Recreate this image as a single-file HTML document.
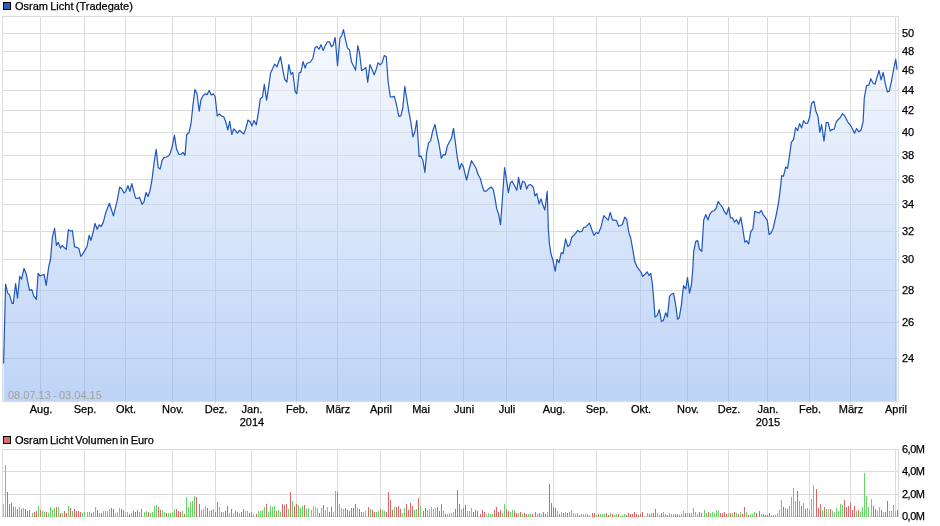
<!DOCTYPE html>
<html><head><meta charset="utf-8"><title>Osram Licht Chart</title><style>
html,body{margin:0;padding:0;background:#fff;width:940px;height:526px;overflow:hidden}
svg{display:block;will-change:transform}
text{font-family:"Liberation Sans",Arial,sans-serif;font-size:11px;fill:#000;stroke:#000;stroke-width:0.25px}
</style></head><body>
<svg width="940" height="526" viewBox="0 0 940 526" shape-rendering="crispEdges">
<defs><linearGradient id="fg" x1="0" y1="16" x2="0" y2="401" gradientUnits="userSpaceOnUse"><stop offset="0" stop-color="#f4f7ff" stop-opacity="0.5"/><stop offset="1" stop-color="#7da9f1" stop-opacity="0.5"/></linearGradient></defs>
<rect x="3.5" y="2.5" width="7" height="7" fill="#2360c2" stroke="#000"/>
<text x="15" y="10" word-spacing="-0.8">Osram Licht (Tradegate)</text>
<path d="M2 33.5H898M2 51.5H898M2 70.5H898M2 90.5H898M2 110.5H898M2 132.5H898M2 155.5H898M2 179.5H898M2 204.5H898M2 231.5H898M2 259.5H898M2 290.5H898M2 322.5H898M2 358.5H898M40.5 16V403M84.5 16V403M125.5 16V403M172.5 16V403M215.5 16V403M251.5 16V403M296.5 16V403M337.5 16V403M380.5 16V403M420.5 16V403M463.5 16V403M506.5 16V403M553.5 16V403M596.5 16V403M640.5 16V403M687.5 16V403M728.5 16V403M767.5 16V403M809.5 16V403M850.5 16V403M895.5 16V403" stroke="#dcdcdc" fill="none"/>
<rect x="2.5" y="16.5" width="896" height="385" fill="none" stroke="#dcdcdc"/>
<path d="M3.6 363.5 L5.6 284.1 L7.7 293.1 L9.4 294.6 L12.0 303.4 L13.3 303.4 L15.6 283.5 L17.5 298.2 L19.7 276.4 L21.6 279.2 L24.0 268.4 L26.1 273.4 L29.5 290.4 L31.8 289.5 L33.8 296.1 L36.4 299.3 L38.1 273.4 L40.2 276.0 L44.1 274.3 L46.2 285.4 L48.7 266.9 L50.5 259.5 L52.4 237.2 L54.6 228.3 L56.4 245.3 L58.3 242.4 L60.4 248.1 L62.2 245.3 L64.5 247.8 L66.3 249.4 L68.4 229.6 L70.3 231.1 L72.4 230.5 L74.6 246.9 L77.1 247.4 L78.9 248.6 L80.8 256.4 L82.6 254.3 L84.5 251.1 L87.0 246.5 L89.2 235.4 L90.9 240.3 L92.9 233.3 L95.0 223.4 L97.1 229.2 L99.1 224.9 L101.2 226.4 L103.3 222.4 L105.7 212.7 L109.4 203.3 L113.4 215.9 L117.0 201.4 L119.7 187.2 L121.8 188.8 L123.9 193.0 L125.8 191.4 L127.9 185.6 L129.9 191.4 L131.8 183.6 L135.5 198.2 L137.6 198.5 L139.6 197.4 L142.0 204.3 L143.9 202.2 L146.0 192.5 L148.1 196.5 L150.1 190.1 L152.0 179.6 L154.1 162.6 L156.2 149.4 L158.2 167.5 L160.1 169.1 L162.2 160.2 L164.3 157.4 L166.7 157.0 L168.7 155.8 L170.0 153.7 L172.2 146.8 L174.4 135.1 L176.6 149.3 L179.0 154.5 L181.3 154.0 L183.0 152.3 L185.0 155.3 L186.7 134.5 L189.0 132.7 L191.0 123.7 L192.9 105.7 L195.0 89.4 L197.0 93.7 L199.2 111.2 L201.0 99.7 L203.0 95.8 L205.2 93.7 L207.0 94.6 L209.2 90.6 L211.2 95.1 L213.3 93.7 L215.2 96.8 L217.2 116.0 L219.5 113.9 L221.5 116.0 L223.7 116.8 L225.8 122.0 L227.8 130.0 L229.7 121.4 L231.8 134.5 L233.8 128.8 L235.7 131.0 L237.5 133.2 L239.5 130.3 L241.9 132.6 L244.0 133.9 L245.8 128.5 L248.0 120.0 L250.4 122.3 L251.8 125.9 L254.0 120.5 L256.3 124.9 L258.5 111.8 L260.3 98.8 L262.5 97.0 L264.3 84.4 L266.6 100.1 L268.4 88.4 L270.6 73.0 L272.6 68.8 L274.7 64.0 L276.9 67.0 L280.5 56.7 L282.9 70.3 L284.7 79.3 L286.9 82.0 L288.8 64.5 L291.0 74.3 L292.8 72.5 L295.2 91.6 L296.8 93.8 L299.1 73.0 L300.9 72.1 L303.1 61.6 L305.1 68.1 L306.7 63.5 L308.6 62.8 L310.7 61.8 L312.8 58.5 L315.0 47.8 L316.7 46.4 L319.0 49.2 L321.0 44.7 L323.1 50.4 L325.2 45.7 L327.4 41.8 L329.5 41.8 L331.4 46.7 L333.2 45.0 L335.2 37.5 L337.5 65.6 L340.0 37.8 L341.8 35.7 L343.5 29.6 L345.4 39.3 L347.4 47.8 L349.5 50.0 L351.6 62.1 L353.8 66.4 L355.6 70.3 L357.8 45.7 L359.6 53.5 L361.6 70.6 L363.8 69.2 L365.9 67.5 L367.7 82.3 L369.9 64.6 L372.0 69.2 L374.2 74.9 L375.9 70.3 L378.0 62.8 L380.2 64.9 L382.1 62.8 L384.3 55.5 L386.3 56.8 L388.2 82.5 L390.3 96.6 L392.3 97.1 L394.2 96.2 L396.6 105.1 L398.8 116.4 L400.9 115.9 L402.8 108.2 L404.8 86.3 L406.9 99.7 L408.8 111.6 L410.8 121.9 L412.9 137.0 L414.8 132.0 L416.8 120.3 L418.3 143.3 L419.1 156.6 L420.9 155.9 L422.9 160.6 L424.9 172.3 L426.6 152.6 L428.6 142.6 L430.6 140.9 L432.6 131.3 L435.0 124.4 L436.9 134.6 L439.0 144.0 L441.3 158.2 L443.3 154.6 L445.3 155.0 L447.3 146.0 L449.5 141.7 L451.5 138.2 L453.5 128.4 L455.3 142.0 L457.3 157.3 L459.5 169.3 L461.5 163.5 L463.3 166.6 L464.9 173.2 L466.6 180.0 L468.7 171.0 L471.5 160.7 L473.8 164.5 L476.0 168.0 L478.2 174.7 L480.2 178.2 L482.0 185.0 L484.0 191.1 L486.3 191.1 L488.6 188.8 L491.2 187.0 L493.2 189.3 L495.1 198.7 L496.7 208.6 L498.8 214.7 L500.5 224.6 L502.3 200.2 L504.6 167.5 L506.4 179.7 L508.4 192.6 L510.4 182.7 L512.2 181.2 L514.5 185.8 L516.8 190.3 L518.6 177.4 L520.6 189.3 L522.5 181.2 L524.4 182.0 L525.0 183.0 L526.7 189.1 L528.4 185.3 L530.3 184.5 L531.8 185.6 L533.4 187.5 L534.9 195.9 L536.8 193.6 L539.1 203.9 L541.0 198.9 L542.9 205.0 L544.9 210.0 L547.2 191.3 L548.4 230.4 L549.4 243.4 L551.0 254.0 L552.9 260.1 L555.2 271.2 L557.0 259.4 L559.0 262.7 L561.3 252.5 L563.1 253.6 L565.6 238.8 L567.7 246.4 L569.7 244.9 L571.7 237.3 L573.8 235.3 L575.8 233.2 L577.7 230.4 L579.9 232.0 L581.9 231.2 L583.8 227.4 L585.7 227.1 L587.5 225.1 L589.5 223.1 L591.8 229.7 L594.0 235.3 L596.3 232.4 L598.3 233.6 L600.8 227.8 L603.8 215.7 L606.0 217.9 L608.2 220.2 L610.2 212.3 L612.5 220.2 L614.8 220.2 L616.6 220.5 L618.6 226.3 L620.6 225.5 L622.4 224.5 L624.7 217.2 L626.7 219.5 L628.8 232.4 L630.8 238.5 L632.7 249.1 L634.9 262.1 L636.9 266.6 L639.1 269.7 L641.1 272.3 L642.6 276.5 L644.9 274.3 L647.1 271.8 L649.0 275.4 L650.8 273.4 L652.4 284.2 L653.6 297.8 L655.0 317.1 L657.1 315.6 L659.3 309.5 L661.4 321.3 L663.3 320.6 L665.7 312.8 L667.4 317.1 L669.5 296.4 L671.4 294.2 L673.5 293.2 L675.7 304.9 L677.5 319.2 L679.2 317.8 L681.4 304.9 L683.5 285.7 L685.7 289.0 L687.5 277.5 L689.5 293.2 L691.4 285.0 L692.8 269.3 L693.7 251.3 L695.8 241.4 L697.7 240.6 L699.4 249.2 L701.8 251.3 L703.7 220.0 L705.8 214.5 L708.0 220.0 L709.7 214.3 L712.0 211.4 L714.1 210.7 L716.1 208.5 L718.2 201.4 L720.1 204.3 L722.2 206.8 L724.4 211.7 L726.5 214.3 L728.7 207.4 L730.5 217.8 L732.5 217.8 L734.4 222.1 L736.5 219.7 L738.6 224.2 L740.8 217.4 L742.5 226.8 L744.8 242.1 L746.5 240.6 L748.6 243.9 L750.8 231.7 L752.9 228.8 L754.8 211.4 L757.2 212.3 L759.0 213.2 L761.3 210.5 L763.1 214.6 L764.9 216.8 L767.3 220.4 L769.1 234.5 L771.2 232.7 L773.1 228.5 L775.8 216.8 L778.5 203.2 L780.3 188.8 L781.7 175.6 L783.5 176.2 L785.7 167.1 L787.5 168.4 L789.3 157.2 L791.4 142.1 L793.6 139.5 L795.6 127.5 L797.6 130.6 L799.6 123.5 L801.6 127.9 L803.6 120.6 L805.6 123.5 L807.6 123.2 L809.6 117.3 L811.6 103.3 L814.0 101.3 L815.9 111.3 L818.0 116.6 L819.8 132.3 L821.6 124.6 L824.0 141.2 L826.2 122.6 L828.2 122.6 L830.2 131.0 L832.2 129.6 L834.2 129.2 L836.2 121.9 L838.2 119.5 L840.2 117.7 L842.4 113.7 L844.4 115.5 L846.4 119.3 L848.4 123.0 L850.4 125.2 L852.4 128.8 L854.5 133.2 L856.6 128.5 L858.6 131.6 L860.9 130.5 L863.1 121.9 L864.3 97.9 L866.6 85.6 L868.8 85.1 L870.8 78.8 L872.9 82.9 L875.1 84.2 L877.2 76.5 L879.1 70.5 L881.1 80.0 L883.2 72.3 L885.4 84.2 L887.4 92.0 L889.3 91.1 L891.7 80.0 L893.6 69.7 L895.7 59.4 L897.1 69.7 L897.1 401 L3.6 401 Z" fill="url(#fg)" stroke="none" shape-rendering="auto"/>
<path d="M3.6 363.5 L5.6 284.1 L7.7 293.1 L9.4 294.6 L12.0 303.4 L13.3 303.4 L15.6 283.5 L17.5 298.2 L19.7 276.4 L21.6 279.2 L24.0 268.4 L26.1 273.4 L29.5 290.4 L31.8 289.5 L33.8 296.1 L36.4 299.3 L38.1 273.4 L40.2 276.0 L44.1 274.3 L46.2 285.4 L48.7 266.9 L50.5 259.5 L52.4 237.2 L54.6 228.3 L56.4 245.3 L58.3 242.4 L60.4 248.1 L62.2 245.3 L64.5 247.8 L66.3 249.4 L68.4 229.6 L70.3 231.1 L72.4 230.5 L74.6 246.9 L77.1 247.4 L78.9 248.6 L80.8 256.4 L82.6 254.3 L84.5 251.1 L87.0 246.5 L89.2 235.4 L90.9 240.3 L92.9 233.3 L95.0 223.4 L97.1 229.2 L99.1 224.9 L101.2 226.4 L103.3 222.4 L105.7 212.7 L109.4 203.3 L113.4 215.9 L117.0 201.4 L119.7 187.2 L121.8 188.8 L123.9 193.0 L125.8 191.4 L127.9 185.6 L129.9 191.4 L131.8 183.6 L135.5 198.2 L137.6 198.5 L139.6 197.4 L142.0 204.3 L143.9 202.2 L146.0 192.5 L148.1 196.5 L150.1 190.1 L152.0 179.6 L154.1 162.6 L156.2 149.4 L158.2 167.5 L160.1 169.1 L162.2 160.2 L164.3 157.4 L166.7 157.0 L168.7 155.8 L170.0 153.7 L172.2 146.8 L174.4 135.1 L176.6 149.3 L179.0 154.5 L181.3 154.0 L183.0 152.3 L185.0 155.3 L186.7 134.5 L189.0 132.7 L191.0 123.7 L192.9 105.7 L195.0 89.4 L197.0 93.7 L199.2 111.2 L201.0 99.7 L203.0 95.8 L205.2 93.7 L207.0 94.6 L209.2 90.6 L211.2 95.1 L213.3 93.7 L215.2 96.8 L217.2 116.0 L219.5 113.9 L221.5 116.0 L223.7 116.8 L225.8 122.0 L227.8 130.0 L229.7 121.4 L231.8 134.5 L233.8 128.8 L235.7 131.0 L237.5 133.2 L239.5 130.3 L241.9 132.6 L244.0 133.9 L245.8 128.5 L248.0 120.0 L250.4 122.3 L251.8 125.9 L254.0 120.5 L256.3 124.9 L258.5 111.8 L260.3 98.8 L262.5 97.0 L264.3 84.4 L266.6 100.1 L268.4 88.4 L270.6 73.0 L272.6 68.8 L274.7 64.0 L276.9 67.0 L280.5 56.7 L282.9 70.3 L284.7 79.3 L286.9 82.0 L288.8 64.5 L291.0 74.3 L292.8 72.5 L295.2 91.6 L296.8 93.8 L299.1 73.0 L300.9 72.1 L303.1 61.6 L305.1 68.1 L306.7 63.5 L308.6 62.8 L310.7 61.8 L312.8 58.5 L315.0 47.8 L316.7 46.4 L319.0 49.2 L321.0 44.7 L323.1 50.4 L325.2 45.7 L327.4 41.8 L329.5 41.8 L331.4 46.7 L333.2 45.0 L335.2 37.5 L337.5 65.6 L340.0 37.8 L341.8 35.7 L343.5 29.6 L345.4 39.3 L347.4 47.8 L349.5 50.0 L351.6 62.1 L353.8 66.4 L355.6 70.3 L357.8 45.7 L359.6 53.5 L361.6 70.6 L363.8 69.2 L365.9 67.5 L367.7 82.3 L369.9 64.6 L372.0 69.2 L374.2 74.9 L375.9 70.3 L378.0 62.8 L380.2 64.9 L382.1 62.8 L384.3 55.5 L386.3 56.8 L388.2 82.5 L390.3 96.6 L392.3 97.1 L394.2 96.2 L396.6 105.1 L398.8 116.4 L400.9 115.9 L402.8 108.2 L404.8 86.3 L406.9 99.7 L408.8 111.6 L410.8 121.9 L412.9 137.0 L414.8 132.0 L416.8 120.3 L418.3 143.3 L419.1 156.6 L420.9 155.9 L422.9 160.6 L424.9 172.3 L426.6 152.6 L428.6 142.6 L430.6 140.9 L432.6 131.3 L435.0 124.4 L436.9 134.6 L439.0 144.0 L441.3 158.2 L443.3 154.6 L445.3 155.0 L447.3 146.0 L449.5 141.7 L451.5 138.2 L453.5 128.4 L455.3 142.0 L457.3 157.3 L459.5 169.3 L461.5 163.5 L463.3 166.6 L464.9 173.2 L466.6 180.0 L468.7 171.0 L471.5 160.7 L473.8 164.5 L476.0 168.0 L478.2 174.7 L480.2 178.2 L482.0 185.0 L484.0 191.1 L486.3 191.1 L488.6 188.8 L491.2 187.0 L493.2 189.3 L495.1 198.7 L496.7 208.6 L498.8 214.7 L500.5 224.6 L502.3 200.2 L504.6 167.5 L506.4 179.7 L508.4 192.6 L510.4 182.7 L512.2 181.2 L514.5 185.8 L516.8 190.3 L518.6 177.4 L520.6 189.3 L522.5 181.2 L524.4 182.0 L525.0 183.0 L526.7 189.1 L528.4 185.3 L530.3 184.5 L531.8 185.6 L533.4 187.5 L534.9 195.9 L536.8 193.6 L539.1 203.9 L541.0 198.9 L542.9 205.0 L544.9 210.0 L547.2 191.3 L548.4 230.4 L549.4 243.4 L551.0 254.0 L552.9 260.1 L555.2 271.2 L557.0 259.4 L559.0 262.7 L561.3 252.5 L563.1 253.6 L565.6 238.8 L567.7 246.4 L569.7 244.9 L571.7 237.3 L573.8 235.3 L575.8 233.2 L577.7 230.4 L579.9 232.0 L581.9 231.2 L583.8 227.4 L585.7 227.1 L587.5 225.1 L589.5 223.1 L591.8 229.7 L594.0 235.3 L596.3 232.4 L598.3 233.6 L600.8 227.8 L603.8 215.7 L606.0 217.9 L608.2 220.2 L610.2 212.3 L612.5 220.2 L614.8 220.2 L616.6 220.5 L618.6 226.3 L620.6 225.5 L622.4 224.5 L624.7 217.2 L626.7 219.5 L628.8 232.4 L630.8 238.5 L632.7 249.1 L634.9 262.1 L636.9 266.6 L639.1 269.7 L641.1 272.3 L642.6 276.5 L644.9 274.3 L647.1 271.8 L649.0 275.4 L650.8 273.4 L652.4 284.2 L653.6 297.8 L655.0 317.1 L657.1 315.6 L659.3 309.5 L661.4 321.3 L663.3 320.6 L665.7 312.8 L667.4 317.1 L669.5 296.4 L671.4 294.2 L673.5 293.2 L675.7 304.9 L677.5 319.2 L679.2 317.8 L681.4 304.9 L683.5 285.7 L685.7 289.0 L687.5 277.5 L689.5 293.2 L691.4 285.0 L692.8 269.3 L693.7 251.3 L695.8 241.4 L697.7 240.6 L699.4 249.2 L701.8 251.3 L703.7 220.0 L705.8 214.5 L708.0 220.0 L709.7 214.3 L712.0 211.4 L714.1 210.7 L716.1 208.5 L718.2 201.4 L720.1 204.3 L722.2 206.8 L724.4 211.7 L726.5 214.3 L728.7 207.4 L730.5 217.8 L732.5 217.8 L734.4 222.1 L736.5 219.7 L738.6 224.2 L740.8 217.4 L742.5 226.8 L744.8 242.1 L746.5 240.6 L748.6 243.9 L750.8 231.7 L752.9 228.8 L754.8 211.4 L757.2 212.3 L759.0 213.2 L761.3 210.5 L763.1 214.6 L764.9 216.8 L767.3 220.4 L769.1 234.5 L771.2 232.7 L773.1 228.5 L775.8 216.8 L778.5 203.2 L780.3 188.8 L781.7 175.6 L783.5 176.2 L785.7 167.1 L787.5 168.4 L789.3 157.2 L791.4 142.1 L793.6 139.5 L795.6 127.5 L797.6 130.6 L799.6 123.5 L801.6 127.9 L803.6 120.6 L805.6 123.5 L807.6 123.2 L809.6 117.3 L811.6 103.3 L814.0 101.3 L815.9 111.3 L818.0 116.6 L819.8 132.3 L821.6 124.6 L824.0 141.2 L826.2 122.6 L828.2 122.6 L830.2 131.0 L832.2 129.6 L834.2 129.2 L836.2 121.9 L838.2 119.5 L840.2 117.7 L842.4 113.7 L844.4 115.5 L846.4 119.3 L848.4 123.0 L850.4 125.2 L852.4 128.8 L854.5 133.2 L856.6 128.5 L858.6 131.6 L860.9 130.5 L863.1 121.9 L864.3 97.9 L866.6 85.6 L868.8 85.1 L870.8 78.8 L872.9 82.9 L875.1 84.2 L877.2 76.5 L879.1 70.5 L881.1 80.0 L883.2 72.3 L885.4 84.2 L887.4 92.0 L889.3 91.1 L891.7 80.0 L893.6 69.7 L895.7 59.4 L897.1 69.7" fill="none" stroke="#1d57be" stroke-width="1.2" stroke-linejoin="round" shape-rendering="auto"/>
<text x="8" y="399" word-spacing="-0.8" style="fill:#a6a294;stroke:none">08.07.13 - 03.04.15</text>
<text x="902" y="37">50</text>
<text x="902" y="55">48</text>
<text x="902" y="74">46</text>
<text x="902" y="94">44</text>
<text x="902" y="114">42</text>
<text x="902" y="136">40</text>
<text x="902" y="159">38</text>
<text x="902" y="183">36</text>
<text x="902" y="208">34</text>
<text x="902" y="235">32</text>
<text x="902" y="263">30</text>
<text x="902" y="294">28</text>
<text x="902" y="326">26</text>
<text x="902" y="362">24</text>
<text x="41" y="413" text-anchor="middle">Aug.</text>
<text x="85" y="413" text-anchor="middle">Sep.</text>
<text x="126" y="413" text-anchor="middle">Okt.</text>
<text x="173" y="413" text-anchor="middle">Nov.</text>
<text x="216" y="413" text-anchor="middle">Dez.</text>
<text x="252" y="413" text-anchor="middle">Jan.</text>
<text x="252" y="426" text-anchor="middle">2014</text>
<text x="297" y="413" text-anchor="middle">Feb.</text>
<text x="338" y="413" text-anchor="middle">März</text>
<text x="381" y="413" text-anchor="middle">April</text>
<text x="421" y="413" text-anchor="middle">Mai</text>
<text x="464" y="413" text-anchor="middle">Juni</text>
<text x="507" y="413" text-anchor="middle">Juli</text>
<text x="554" y="413" text-anchor="middle">Aug.</text>
<text x="597" y="413" text-anchor="middle">Sep.</text>
<text x="641" y="413" text-anchor="middle">Okt.</text>
<text x="688" y="413" text-anchor="middle">Nov.</text>
<text x="729" y="413" text-anchor="middle">Dez.</text>
<text x="768" y="413" text-anchor="middle">Jan.</text>
<text x="768" y="426" text-anchor="middle">2015</text>
<text x="810" y="413" text-anchor="middle">Feb.</text>
<text x="851" y="413" text-anchor="middle">März</text>
<text x="896" y="413" text-anchor="middle">April</text>
<rect x="3.5" y="436.5" width="7" height="7" fill="#dc6a6e" stroke="#000"/>
<text x="15" y="444" word-spacing="-1.05">Osram Licht Volumen in Euro</text>
<path d="M2 471.5H898M2 494.5H898M40.5 449V517M84.5 449V517M125.5 449V517M172.5 449V517M215.5 449V517M251.5 449V517M296.5 449V517M337.5 449V517M380.5 449V517M420.5 449V517M463.5 449V517M506.5 449V517M553.5 449V517M596.5 449V517M640.5 449V517M687.5 449V517M728.5 449V517M767.5 449V517M809.5 449V517M850.5 449V517M895.5 449V517" stroke="#dcdcdc" fill="none"/>
<rect x="2.5" y="449.5" width="896" height="67" fill="none" stroke="#dcdcdc"/>
<path d="M5.5 465V517M15.5 507V517M19.5 507V517M23.5 508V517M32.5 513V517M38.5 506V517M42.5 511V517M44.5 512V517M48.5 513V517M50.5 507V517M52.5 510V517M54.5 508V517M58.5 507V517M62.5 513V517M68.5 506V517M72.5 511V517M82.5 513V517M84.5 512V517M87.5 512V517M89.5 512V517M93.5 512V517M95.5 507V517M99.5 513V517M103.5 511V517M105.5 511V517M107.5 511V517M109.5 509V517M115.5 513V517M117.5 512V517M119.5 508V517M125.5 512V517M127.5 512V517M131.5 513V517M139.5 512V517M144.5 512V517M146.5 511V517M150.5 513V517M152.5 512V517M154.5 506V517M156.5 505V517M162.5 510V517M164.5 512V517M168.5 513V517M170.5 513V517M172.5 512V517M174.5 509V517M182.5 511V517M186.5 497V517M188.5 507V517M190.5 502V517M192.5 501V517M194.5 496V517M201.5 510V517M203.5 509V517M205.5 506V517M209.5 511V517M213.5 509V517M219.5 507V517M223.5 512V517M229.5 513V517M233.5 513V517M239.5 513V517M245.5 511V517M247.5 511V517M253.5 514V517M258.5 511V517M260.5 511V517M262.5 510V517M264.5 507V517M268.5 512V517M270.5 506V517M272.5 507V517M274.5 506V517M278.5 510V517M280.5 512V517M288.5 509V517M292.5 501V517M298.5 505V517M300.5 508V517M302.5 506V517M306.5 509V517M308.5 508V517M311.5 510V517M313.5 506V517M315.5 507V517M317.5 508V517M321.5 508V517M325.5 510V517M327.5 507V517M333.5 512V517M335.5 491V517M339.5 504V517M341.5 508V517M343.5 509V517M357.5 508V517M363.5 512V517M365.5 511V517M370.5 509V517M376.5 512V517M378.5 511V517M382.5 510V517M384.5 511V517M394.5 507V517M402.5 513V517M404.5 508V517M414.5 510V517M416.5 509V517M420.5 506V517M427.5 510V517M429.5 509V517M431.5 507V517M433.5 509V517M435.5 508V517M443.5 511V517M447.5 514V517M449.5 513V517M451.5 513V517M453.5 512V517M461.5 509V517M467.5 511V517M469.5 511V517M471.5 508V517M488.5 513V517M490.5 514V517M492.5 514V517M502.5 513V517M504.5 504V517M510.5 512V517M512.5 510V517M518.5 513V517M522.5 514V517M528.5 514V517M530.5 514V517M537.5 514V517M541.5 514V517M547.5 512V517M557.5 511V517M561.5 512V517M565.5 512V517M569.5 512V517M571.5 510V517M573.5 513V517M575.5 514V517M577.5 513V517M581.5 514V517M583.5 514V517M585.5 514V517M587.5 514V517M589.5 515V517M596.5 515V517M600.5 514V517M602.5 514V517M604.5 514V517M610.5 513V517M614.5 515V517M616.5 514V517M620.5 516V517M622.5 515V517M624.5 514V517M644.5 516V517M647.5 513V517M651.5 513V517M657.5 513V517M659.5 515V517M663.5 512V517M665.5 514V517M669.5 513V517M671.5 514V517M673.5 514V517M679.5 515V517M681.5 514V517M683.5 511V517M687.5 513V517M691.5 513V517M693.5 508V517M695.5 512V517M697.5 514V517M704.5 510V517M706.5 513V517M710.5 513V517M712.5 512V517M714.5 513V517M716.5 510V517M718.5 511V517M728.5 513V517M732.5 513V517M736.5 513V517M740.5 512V517M746.5 512V517M750.5 514V517M752.5 514V517M754.5 512V517M761.5 514V517M771.5 515V517M773.5 515V517M775.5 515V517M777.5 513V517M779.5 510V517M781.5 500V517M785.5 508V517M789.5 506V517M791.5 497V517M793.5 488V517M795.5 501V517M799.5 501V517M803.5 503V517M807.5 508V517M809.5 510V517M811.5 499V517M813.5 485V517M822.5 510V517M826.5 509V517M832.5 511V517M836.5 508V517M838.5 511V517M840.5 504V517M842.5 505V517M856.5 511V517M860.5 512V517M862.5 507V517M864.5 473V517M866.5 496V517M868.5 507V517M871.5 499V517M877.5 511V517M879.5 507V517M883.5 512V517M889.5 511V517M891.5 511V517M893.5 505V517M895.5 511V517" stroke="#66d466" fill="none"/>
<path d="M7.5 492V517M9.5 504V517M11.5 503V517M13.5 507V517M17.5 509V517M21.5 509V517M25.5 509V517M27.5 511V517M29.5 510V517M34.5 512V517M36.5 511V517M40.5 510V517M46.5 512V517M56.5 507V517M60.5 513V517M64.5 511V517M66.5 513V517M70.5 508V517M74.5 509V517M76.5 511V517M78.5 511V517M80.5 512V517M91.5 513V517M97.5 510V517M101.5 513V517M111.5 508V517M113.5 509V517M121.5 509V517M123.5 510V517M129.5 514V517M133.5 511V517M135.5 512V517M137.5 510V517M141.5 509V517M148.5 512V517M158.5 507V517M160.5 510V517M166.5 513V517M176.5 509V517M178.5 511V517M180.5 512V517M184.5 514V517M196.5 497V517M199.5 504V517M207.5 508V517M211.5 510V517M215.5 512V517M217.5 502V517M221.5 512V517M225.5 511V517M227.5 506V517M231.5 509V517M235.5 511V517M237.5 512V517M241.5 512V517M243.5 509V517M249.5 513V517M251.5 512V517M256.5 514V517M266.5 504V517M276.5 511V517M282.5 504V517M284.5 505V517M286.5 504V517M290.5 492V517M294.5 506V517M296.5 504V517M304.5 505V517M319.5 513V517M323.5 505V517M329.5 512V517M331.5 507V517M337.5 492V517M345.5 508V517M347.5 510V517M349.5 511V517M351.5 508V517M353.5 508V517M355.5 504V517M359.5 509V517M361.5 512V517M368.5 507V517M372.5 510V517M374.5 512V517M380.5 509V517M386.5 512V517M388.5 492V517M390.5 500V517M392.5 510V517M396.5 507V517M398.5 506V517M400.5 509V517M406.5 504V517M408.5 510V517M410.5 503V517M412.5 506V517M418.5 498V517M423.5 511V517M425.5 508V517M437.5 507V517M439.5 511V517M441.5 504V517M445.5 514V517M455.5 509V517M457.5 490V517M459.5 504V517M463.5 508V517M465.5 505V517M473.5 512V517M475.5 510V517M477.5 511V517M480.5 514V517M482.5 510V517M484.5 512V517M494.5 510V517M496.5 507V517M498.5 512V517M500.5 510V517M506.5 509V517M508.5 511V517M514.5 511V517M516.5 513V517M520.5 512V517M524.5 513V517M526.5 514V517M532.5 514V517M535.5 512V517M539.5 513V517M543.5 512V517M545.5 514V517M549.5 484V517M551.5 503V517M553.5 507V517M555.5 508V517M559.5 514V517M563.5 513V517M567.5 513V517M579.5 515V517M592.5 513V517M594.5 513V517M598.5 514V517M606.5 513V517M608.5 515V517M612.5 514V517M618.5 514V517M626.5 515V517M628.5 513V517M630.5 514V517M632.5 514V517M634.5 512V517M636.5 514V517M638.5 515V517M640.5 514V517M642.5 512V517M649.5 514V517M653.5 513V517M655.5 509V517M661.5 513V517M667.5 515V517M675.5 514V517M677.5 514V517M685.5 513V517M689.5 513V517M699.5 512V517M701.5 513V517M708.5 512V517M720.5 513V517M722.5 513V517M724.5 512V517M726.5 514V517M730.5 513V517M734.5 512V517M738.5 514V517M742.5 514V517M744.5 507V517M748.5 515V517M756.5 513V517M759.5 511V517M763.5 514V517M765.5 515V517M767.5 515V517M769.5 513V517M783.5 507V517M787.5 509V517M797.5 491V517M801.5 506V517M805.5 509V517M816.5 489V517M818.5 508V517M820.5 504V517M824.5 507V517M830.5 509V517M844.5 500V517M846.5 507V517M848.5 506V517M850.5 503V517M852.5 510V517M854.5 506V517M858.5 510V517M873.5 506V517M875.5 509V517M881.5 510V517M885.5 512V517M887.5 501V517M897.5 510V517" stroke="#dc6468" fill="none"/>
<path d="M3.5 504V517M486.5 514V517M828.5 509V517M834.5 512V517" stroke="#b4b4b4" fill="none"/>
<text x="902" y="453" letter-spacing="-0.5">6,0M</text>
<text x="902" y="475" letter-spacing="-0.5">4,0M</text>
<text x="902" y="498" letter-spacing="-0.5">2,0M</text>
<text x="902" y="520" letter-spacing="-0.5">0,0M</text>
</svg>
</body></html>
